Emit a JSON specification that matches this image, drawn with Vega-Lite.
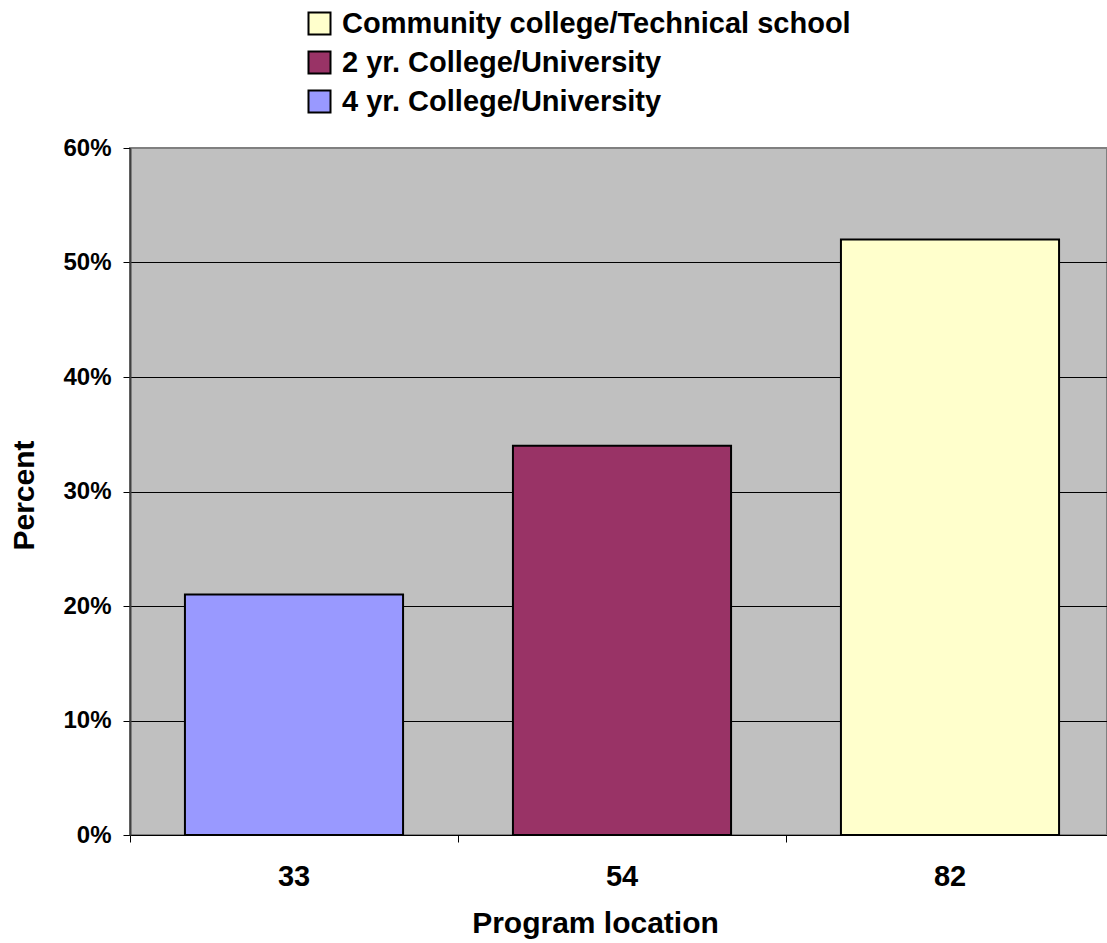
{
  "$schema": "https://vega.github.io/schema/vega-lite/v6.json",
  "width": 977,
  "height": 687,
  "autosize": {"type": "none"},
  "padding": {"left": 130, "top": 148, "right": 0, "bottom": 108},
  "background": "white",
  "config": {
    "font": "Liberation Sans",
    "view": {"fill": "#C0C0C0", "stroke": "#808080", "strokeWidth": 2}
  },
  "data": {
    "values": [
      {"location": "33", "type": "4 yr. College/University", "percent": 0.21},
      {"location": "54", "type": "2 yr. College/University", "percent": 0.34},
      {"location": "82", "type": "Community college/Technical school", "percent": 0.52}
    ]
  },
  "mark": {"type": "bar", "width": {"band": 0.665}, "stroke": "black", "strokeWidth": 2},
  "encoding": {
    "x": {
      "field": "location",
      "type": "nominal",
      "sort": ["33", "54", "82"],
      "scale": {"range": [0, 984], "paddingInner": 0, "paddingOuter": 0},
      "axis": {
        "title": "Program location",
        "titleFontSize": 30,
        "titleFontWeight": "bold",
        "titleColor": "black",
        "titleX": 465,
        "titleY": 97,
        "titleAlign": "center",
        "titleBaseline": "alphabetic",
        "labelAngle": 0,
        "labelFontSize": 29,
        "labelFontWeight": "bold",
        "labelColor": "black",
        "labelPadding": 20,
        "bandPosition": 0,
        "labelBound": false,
        "domainColor": "black",
        "domainWidth": 1,
        "tickColor": "black",
        "tickSize": 7,
        "grid": false
      }
    },
    "y": {
      "field": "percent",
      "type": "quantitative",
      "scale": {"domain": [0, 0.6], "nice": false},
      "axis": {
        "title": "Percent",
        "titleFontSize": 30,
        "titleFontWeight": "bold",
        "titleColor": "black",
        "titleX": -97,
        "titleY": 347,
        "titleAngle": -90,
        "titleAlign": "center",
        "titleBaseline": "alphabetic",
        "values": [0, 0.1, 0.2, 0.3, 0.4, 0.5, 0.6],
        "format": ".0%",
        "labelFontSize": 24,
        "labelFontWeight": "bold",
        "labelColor": "black",
        "labelPadding": 12,
        "tickColor": "black",
        "tickSize": 7,
        "domainColor": "#404040",
        "domainWidth": 2,
        "grid": true,
        "gridColor": {"condition": {"test": "datum.value >= 0.6", "value": "#808080"}, "value": "black"},
        "gridWidth": 1,
        "gridOpacity": 1
      }
    },
    "fill": {
      "field": "type",
      "type": "nominal",
      "scale": {
        "domain": ["Community college/Technical school", "2 yr. College/University", "4 yr. College/University"],
        "range": ["#FFFFCC", "#993366", "#9999FF"]
      },
      "legend": {
        "title": null,
        "orient": "none",
        "legendX": 175,
        "legendY": -139,
        "padding": 0,
        "symbolType": "square",
        "symbolSize": 484,
        "symbolStrokeColor": "black",
        "symbolStrokeWidth": 2,
        "symbolOpacity": 1,
        "labelFontSize": 29,
        "labelFontWeight": "bold",
        "labelColor": "black",
        "labelOffset": 8,
        "labelLimit": 800,
        "rowPadding": 8
      }
    }
  }
}
